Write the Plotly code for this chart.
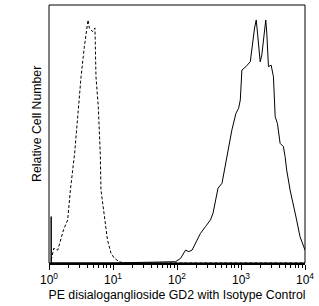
import numpy as np
import plotly.graph_objects as go

# Isotype control (dashed) – log10 fluorescence and relative count (% of axis height)
isotype_log_fl = [0.034, 0.075, 0.137, 0.226, 0.292, 0.334, 0.401, 0.459, 0.501, 0.552,
                  0.610, 0.630, 0.681, 0.718, 0.734, 0.770, 0.801, 0.812, 0.879, 0.914,
                  0.967, 1.019, 1.096, 1.170, 2.000, 3.000, 4.000]
isotype_count = [1.2, 5.7, 5.0, 12.8, 16.7, 28.3, 42.6, 60.6, 72.2, 83.8,
                 94.2, 91.1, 89.7, 91.1, 72.2, 60.6, 42.6, 28.3, 16.7, 8.9,
                 3.9, 1.9, 0.5, 0.0, 0.0, 0.0, 0.0]

# PE anti-GD2 (solid)
gd2_log_fl = [0.033, 0.034, 0.036, 1.000, 1.874, 1.978, 2.056, 2.134, 2.185, 2.236,
              2.314, 2.367, 2.445, 2.523, 2.563, 2.600, 2.641, 2.703, 2.740, 2.784,
              2.807, 2.858, 2.921, 2.963, 2.989, 3.014, 3.076, 3.145, 3.212, 3.238,
              3.258, 3.285, 3.300, 3.325, 3.351, 3.387, 3.403, 3.429, 3.471, 3.507,
              3.534, 3.569, 3.611, 3.663, 3.689, 3.714, 3.767, 3.818, 3.869, 3.922,
              3.984, 4.000]
gd2_count = [0.0, 18.0, 0.0, 0.0, 0.5, 0.5, 1.8, 5.0, 4.4, 5.0,
             8.9, 11.5, 14.1, 16.7, 19.3, 24.4, 29.0, 30.9, 36.0, 41.9,
             45.1, 51.6, 58.0, 60.0, 63.2, 74.8, 76.1, 78.0, 91.1, 94.2,
             89.1, 80.0, 78.0, 80.6, 86.4, 94.2, 89.1, 76.1, 76.7, 72.2,
             56.7, 54.1, 46.4, 45.1, 41.2, 36.0, 28.3, 23.1, 16.7, 10.2,
             5.7, 5.0]

tick_vals = [1, 10, 100, 1000, 10000]
tick_text = ["10<sup>0</sup>", "10<sup>1</sup>", "10<sup>2</sup>", "10<sup>3</sup>", "10<sup>4</sup>"]

x_title = "PE disialoganglioside GD2 with Isotype Control"
y_title = "Relative Cell Number"

FONT = "Liberation Sans, Arial, sans-serif"

fig = go.Figure()
fig.add_trace(go.Scatter(x=np.power(10.0, isotype_log_fl), y=isotype_count, mode="lines",
                         line=dict(color="black", width=1, dash="3px,2px"),
                         showlegend=False, hoverinfo="skip"))
fig.add_trace(go.Scatter(x=np.power(10.0, gd2_log_fl), y=gd2_count, mode="lines",
                         line=dict(color="black", width=1),
                         showlegend=False, hoverinfo="skip"))

fig.update_layout(
    width=319, height=306,
    margin=dict(l=49, r=12, t=5, b=43),
    paper_bgcolor="white", plot_bgcolor="white",
    font=dict(family=FONT, size=12, color="black"),
    xaxis=dict(type="log", range=[0, 4], showgrid=False, zeroline=False,
               showline=True, linecolor="black", linewidth=2,
               ticks="outside", ticklen=5, tickwidth=1, tickcolor="black",
               tickvals=tick_vals, ticktext=tick_text,
               tickfont=dict(family=FONT, size=12),
               minor=dict(ticks="outside", ticklen=3, tickwidth=1, tickcolor="black",
                          dtick="D1", showgrid=False),
               title=dict(text=x_title, font=dict(family=FONT, size=12.3), standoff=4)),
    yaxis=dict(range=[0, 100], showgrid=False, zeroline=False, showticklabels=False,
               ticks="", showline=False),
    shapes=[dict(type="rect", xref="paper", yref="paper", x0=0, x1=1, y0=0, y1=1,
                 line=dict(color="black", width=1), layer="above")],
    annotations=[dict(text=y_title, xref="paper", yref="paper", x=-0.047, y=0.539,
                      xanchor="center", yanchor="middle", textangle=-90, showarrow=False,
                      font=dict(family=FONT, size=12.3))],
)

fig.write_html("out.html")
